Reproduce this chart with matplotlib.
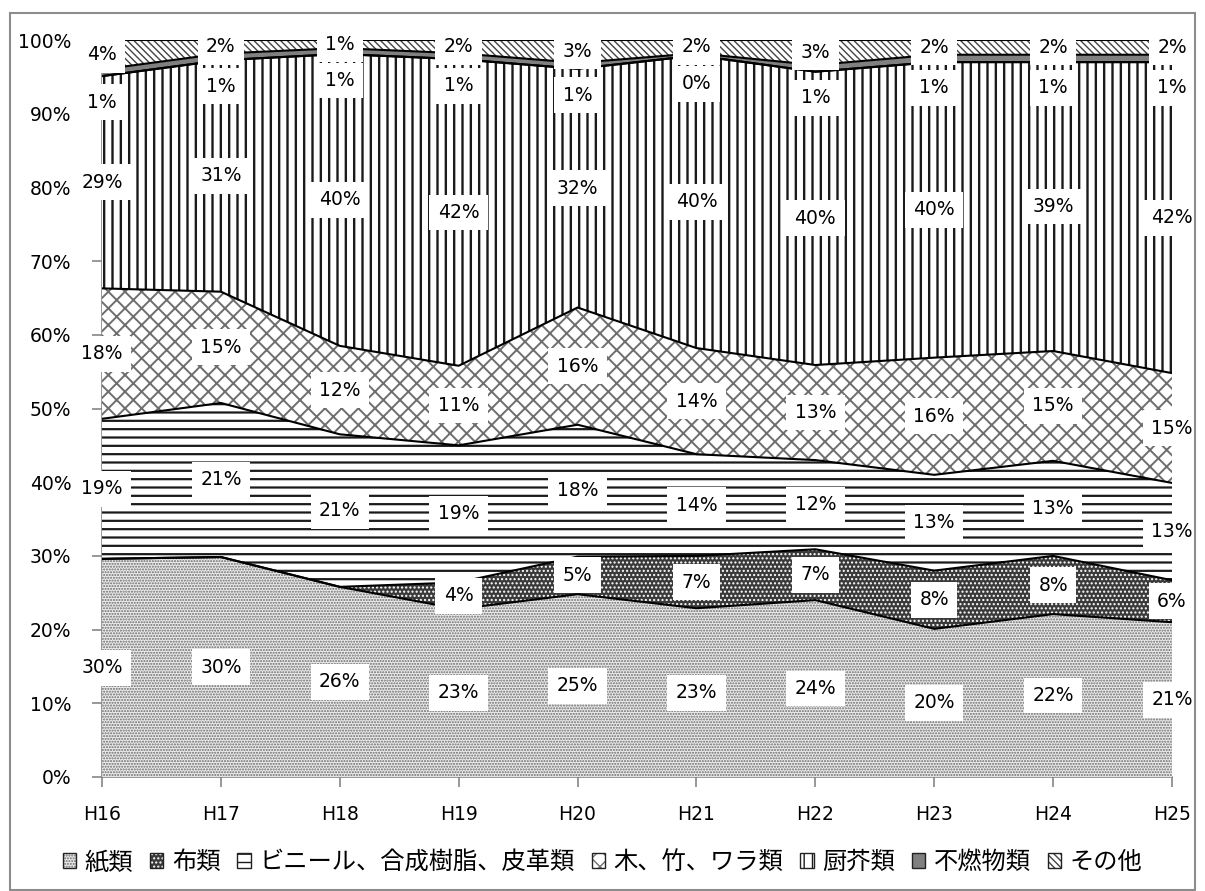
import numpy as np
import matplotlib
matplotlib.use("Agg")
import matplotlib.pyplot as plt
from matplotlib.patches import Rectangle, Patch

plt.rcParams['font.family'] = ['DejaVu Sans', 'Noto Sans CJK JP']

years = ["H16", "H17", "H18", "H19", "H20", "H21", "H22", "H23", "H24", "H25"]

# composition of waste (%), bottom to top
paper   = [29.6, 29.85, 25.8, 22.8, 24.8, 22.9, 24.0, 20.1, 22.1, 21.0]
cloth   = [np.nan, np.nan, np.nan, 3.6, 5.1, 7.1, 6.9, 7.9, 7.9, 5.7]
vinyl   = [19.0, 20.9, 20.7, 18.6, 17.9, 13.8, 12.1, 13.0, 12.9, 13.2]
wood    = [17.7, 15.1, 12.0, 10.8, 15.9, 14.4, 12.9, 15.9, 14.9, 14.9]
kitchen = [28.8, 31.4, 39.6, 41.6, 32.4, 39.7, 39.8, 40.1, 39.2, 42.2]
noncomb = [0.9, 0.9, 0.8, 0.8, 0.8, 0.3, 0.9, 1.0, 1.0, 1.0]
other   = [4.0, 1.85, 1.1, 1.8, 3.1, 1.8, 3.4, 2.0, 2.0, 2.0]

names = ["紙類", "布類", "ビニール、合成樹脂、皮革類", "木、竹、ワラ類", "厨芥類", "不燃物類", "その他"]
series = [paper, cloth, vinyl, wood, kitchen, noncomb, other]

# fill styles: (facecolor, hatch, hatch colour, hatch linewidth)
styles = [
    ("#ececec", "......", "#6a6a6a", 1.0),
    ("#3a3a3a", "....",   "white",   1.0),
    ("white",   "--",     "#1a1a1a", 1.6),
    ("white",   "xx",     "#6e6e6e", 1.4),
    ("white",   "||",     "#1a1a1a", 1.7),
    ("#808080", None,     "black",   1.0),
    ("white",   "\\\\\\\\\\", "#444444", 1.0),
]

fig = plt.figure(figsize=(12.05, 8.91), dpi=100)
ax = fig.add_axes([102 / 1205, 114 / 891, 1070 / 1205, 737 / 891])

x = np.arange(len(years))
base = np.zeros(len(years))
bands = []
handles = []
for name, vals, (fc, hatch, hc, hlw) in zip(names, series, styles):
    v = np.nan_to_num(np.array(vals, dtype=float))
    top = base + v
    with plt.rc_context({'hatch.linewidth': hlw, 'hatch.color': hc}):
        ax.fill_between(x, base, top, facecolor=fc, hatch=hatch,
                        edgecolor=hc, linewidth=0, zorder=2)
        swatch = Patch(facecolor=fc, hatch=hatch, edgecolor=hc, linewidth=0)
    frame = Patch(fill=False, edgecolor="#222222", linewidth=1.0)
    handles.append((swatch, frame))
    bands.append((base.copy(), top.copy(), vals))
    base = top

# boundary lines between bands
for b, t, vals in bands:
    ax.plot(x, t, color="black", lw=1.5, zorder=3)
ax.plot(x, bands[5][0], color="black", lw=1.5, zorder=3)

# data labels
for i, (b, t, vals) in enumerate(bands):
    for j in range(len(years)):
        val = vals[j]
        if np.isnan(val):
            continue
        yc = (b[j] + t[j]) / 2
        if i == 5:
            yc -= 4.0
        ax.text(x[j], yc, f"{round(val):d}%", ha="center", va="center",
                fontsize=13.5, color="black", zorder=5, clip_on=False,
                bbox=dict(boxstyle="square,pad=0.45", fc="white", ec="none"))

ax.set_xlim(0, len(years) - 1)
ax.set_ylim(0, 100)
ax.set_yticks(np.arange(0, 101, 10))
ax.set_yticklabels([f"{v}%" for v in range(0, 101, 10)])
ax.set_xticks(x)
ax.set_xticklabels(years)
ax.tick_params(axis="both", labelsize=13.5, color="#868686", length=7, width=1.2)
ax.tick_params(axis="x", pad=13)
ax.tick_params(axis="y", pad=15)
for s in ["top", "right"]:
    ax.spines[s].set_visible(False)
for s in ["left", "bottom"]:
    ax.spines[s].set_color("#868686")
    ax.spines[s].set_linewidth(1.2)
    ax.spines[s].set_zorder(1)

fig.legend(handles, names, loc="center", bbox_to_anchor=(0.5, 29 / 891),
           ncol=7, frameon=False, handlelength=0.55, handleheight=0.55,
           handletextpad=0.35, columnspacing=0.7,
           prop={"family": ["Noto Sans CJK JP"], "size": 17.5})

# chart frame
fig.add_artist(Rectangle((10 / 1205, 1 / 891), 1185 / 1205, 877 / 891,
                         transform=fig.transFigure, fill=False,
                         ec="#8c8c8c", lw=1.5))

fig.savefig("out.png", dpi=100)
